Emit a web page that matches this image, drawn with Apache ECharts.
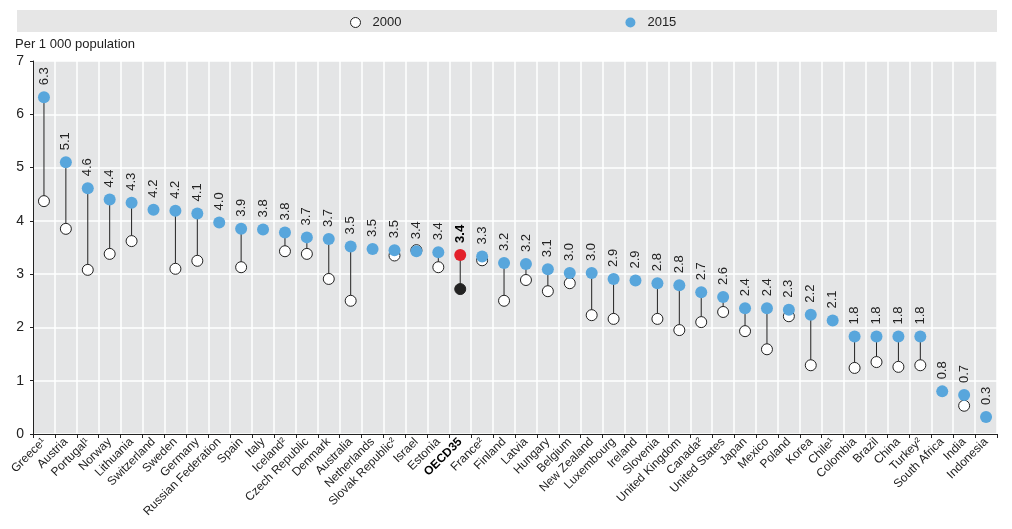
<!DOCTYPE html>
<html><head><meta charset="utf-8">
<script src="https://cdn.jsdelivr.net/npm/echarts@6/dist/echarts.min.js"></script>
<style>html,body{margin:0;padding:0;background:#fff}#c{width:1012px;height:529px}</style>
</head><body><div id="c"></div>
<script>
const categories = ['Greece¹','Austria','Portugal¹','Norway','Lithuania','Switzerland','Sweden','Germany','Russian Federation','Spain','Italy','Iceland²','Czech Republic','Denmark','Australia','Netherlands','Slovak Republic²','Israel','Estonia','OECD35','France²','Finland','Latvia','Hungary','Belgium','New Zealand','Luxembourg','Ireland','Slovenia','United Kingdom','Canada²','United States','Japan','Mexico','Poland','Korea','Chile¹','Colombia','Brazil','China','Turkey²','South Africa','India','Indonesia'];
const values2015 = [6.32,5.10,4.61,4.40,4.34,4.21,4.19,4.14,3.97,3.85,3.84,3.78,3.69,3.66,3.52,3.47,3.45,3.43,3.41,3.36,3.33,3.21,3.19,3.09,3.02,3.02,2.91,2.88,2.83,2.79,2.66,2.57,2.36,2.36,2.33,2.24,2.13,1.83,1.83,1.83,1.83,0.80,0.73,0.32];
const values2000 = [4.37,3.85,3.08,3.38,3.62,null,3.10,3.25,null,3.13,null,3.43,3.38,2.91,2.50,null,3.35,3.45,3.13,2.72,3.26,2.50,2.89,2.68,2.83,2.23,2.16,null,2.16,1.95,2.10,2.29,1.93,1.59,2.21,1.29,null,1.24,1.35,1.26,1.29,null,0.53,null];
const yTicks = [0,1,2,3,4,5,6,7];
const highlight = 'OECD35';

const FONT = '"Liberation Sans Narrow","Arial Narrow","Liberation Sans",Arial,sans-serif';
const BLUE = '#58a6dc';

const d2015 = values2015.map((v,i)=> categories[i]===highlight ? {value:v, itemStyle:{color:'#e3202a'}, label:{fontWeight:'bold', color:'#000'}} : v);
const d2000 = values2000.map((v,i)=> categories[i]===highlight ? {value:v, itemStyle:{color:'#222', borderColor:'#222'}} : v);
const segs = categories.map((c,i)=> values2000[i]==null ? null : [i, values2000[i], values2015[i]]).filter(Boolean);

const chart = echarts.init(document.getElementById('c'), null, {renderer:'canvas'});
chart.setOption({
  animation:false,
  textStyle:{fontFamily:FONT},
  graphic:[{type:'rect', left:17, top:10, shape:{width:980, height:22}, style:{fill:'#e6e6e6'}, z:-1},
           {type:'text', left:15, top:38, style:{text:'Per 1 000 population', font:'13px '+FONT, fill:'#222'}}],
  legend:{top:11, left:345, itemGap:224, itemWidth:10, itemHeight:10,
    textStyle:{fontFamily:FONT, fontSize:13, color:'#222', padding:[0,0,0,7]},
    data:[{name:'2000', icon:'circle', itemStyle:{color:'#fff', borderColor:'#222', borderWidth:1}},
          {name:'2015', icon:'circle', itemStyle:{color:BLUE}}]},
  grid:{left:33, right:15, top:61, bottom:95, show:true, backgroundColor:'#e4e5e6', borderWidth:0},
  xAxis:{type:'category', data:categories, boundaryGap:true,
    axisLine:{lineStyle:{color:'#222', width:1}},
    axisTick:{show:true, length:4, lineStyle:{color:'#222'}},
    splitLine:{show:true, lineStyle:{color:'#fff', width:1.5}},
    axisLabel:{interval:0, rotate:45, fontSize:12, color:'#222', fontFamily:FONT, margin:6,
      formatter:v=> v===highlight ? '{b|'+v+'}' : v,
      rich:{b:{fontWeight:'bold', fontSize:12, color:'#000', fontFamily:FONT}}}},
  yAxis:{type:'value', min:0, max:7, interval:1, data:yTicks,
    axisLine:{show:true, lineStyle:{color:'#222'}},
    axisTick:{show:true, length:3, lineStyle:{color:'#222'}},
    splitLine:{show:true, lineStyle:{color:'#fff', width:1.5}},
    axisLabel:{fontSize:14, color:'#222', fontFamily:FONT, margin:9}},
  series:[
    {type:'custom', name:'seg', z:1, silent:true,
      renderItem:(params, api)=>{
        const a = api.coord([api.value(0), api.value(1)]);
        const b = api.coord([api.value(0), api.value(2)]);
        return {type:'line', shape:{x1:a[0], y1:a[1], x2:b[0], y2:b[1]}, style:{stroke:'#222', lineWidth:1}};
      },
      encode:{x:0, y:[1,2]}, data:segs},
    {type:'scatter', name:'2000', z:3, symbolSize:11, data:d2000,
      itemStyle:{color:'#fff', borderColor:'#222', borderWidth:1, opacity:1}},
    {type:'scatter', name:'2015', z:4, symbolSize:12, data:d2015,
      itemStyle:{color:BLUE, opacity:1},
      label:{show:true, position:'top', rotate:90, align:'left', verticalAlign:'middle', distance:6,
        fontSize:13, color:'#222', fontFamily:FONT,
        formatter:p=> (typeof p.value==='number'? p.value : p.value).toFixed(1)}}
  ]
});
</script></body></html>
